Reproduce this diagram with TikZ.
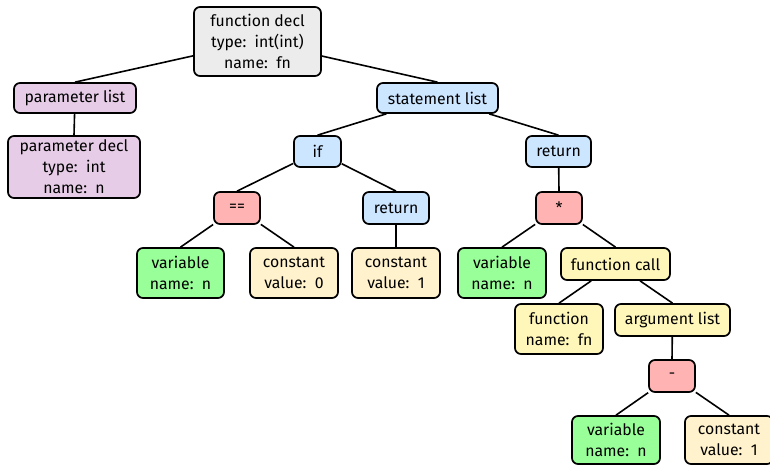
\documentclass[tikz,border=0pt]{standalone}
\usepackage{fontspec}
\setmainfont{Fira Sans}
\begin{document}
\begin{tikzpicture}[x=1pt,y=-1pt,
  ast/.style={draw=black, line width=1.7pt, rounded corners=6pt, align=center,
    inner sep=0pt, minimum height=31pt, minimum width=46pt,
    font=\fontsize{15.8}{21}\selectfont},
  declnode/.style={ast, fill=gray!15},
  paramnode/.style={ast, fill={rgb,255:red,230;green,204;blue,230}},
  stmtnode/.style={ast, fill={rgb,255:red,204;green,230;blue,255}},
  opnode/.style={ast, fill={rgb,255:red,255;green,179;blue,179}},
  varnode/.style={ast, fill={rgb,255:red,153;green,255;blue,153}, minimum height=50pt},
  constnode/.style={ast, fill={rgb,255:red,255;green,242;blue,204}, minimum height=50pt},
  callnode/.style={ast, fill={rgb,255:red,255;green,247;blue,186}},
  link/.style={line width=1.6pt}
]
\useasboundingbox (0,0) rectangle (770,465);

% nodes, placed at their centres
\node[declnode, minimum width=127pt, minimum height=69pt] (fdecl) at (257.5,41.5)
  {function decl\\type:\ \ int(int)\\name:\ \ fn};
\node[paramnode, minimum width=122pt, minimum height=30pt] (plist) at (75,98) {parameter list};
\node[paramnode, minimum width=132pt, minimum height=62pt] (pdecl) at (74,167)
  {parameter decl\\type:\ \ int\\name:\ \ n};
\node[stmtnode, minimum width=121pt, minimum height=30pt] (slist) at (437.5,98) {statement list};
\node[stmtnode, minimum width=47pt] (ifst) at (317.5,151.5) {if};
\node[stmtnode, minimum width=65pt] (retb) at (558.5,151.5) {return};
\node[opnode, minimum height=32pt] (eq) at (237,208) {==};
\node[stmtnode, minimum width=66pt, minimum height=32pt] (reta) at (396,208) {return};
\node[varnode, minimum width=87pt] (vara) at (180.5,273) {variable\\name:\ \ n};
\node[constnode, minimum width=88pt] (consta) at (294,273) {constant\\value:\ \ 0};
\node[constnode, minimum width=88pt] (constb) at (396,273) {constant\\value:\ \ 1};
\node[opnode, minimum height=32pt] (mul) at (559,208) {*};
\node[varnode, minimum width=88pt] (varb) at (502,273) {variable\\name:\ \ n};
\node[callnode, minimum width=109pt, minimum height=32pt] (fcall) at (615.5,264) {function call};
\node[callnode, minimum width=88pt, minimum height=50pt] (fname) at (559,329) {function\\name:\ \ fn};
\node[callnode, minimum width=115pt, minimum height=32pt] (alist) at (672.5,320) {argument list};
\node[opnode, minimum height=32pt] (minus) at (672,376) {-};
\node[varnode, minimum width=88pt, minimum height=48pt] (varc) at (616,440) {variable\\name:\ \ n};
\node[constnode, minimum width=88pt, minimum height=48pt] (constc) at (729,440) {constant\\value:\ \ 1};

% tree edges: parent border to child top
\foreach \p/\c in {fdecl/plist, plist/pdecl, fdecl/slist, slist/ifst, slist/retb,
    ifst/eq, ifst/reta, eq/vara, eq/consta, reta/constb, retb/mul, mul/varb,
    mul/fcall, fcall/fname, fcall/alist, alist/minus, minus/varc, minus/constc}
  \draw[link] (\p) -- (\c.north);
\end{tikzpicture}
\end{document}
